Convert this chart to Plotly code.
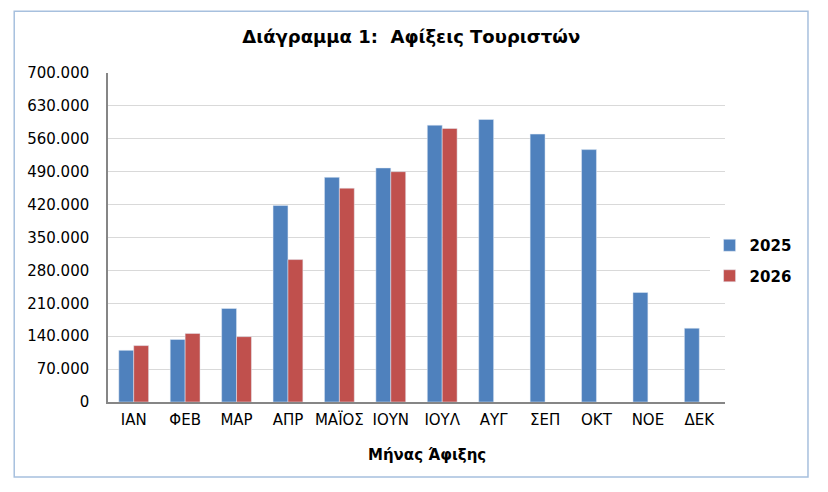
import plotly.graph_objects as go

# μήνες και αφίξεις ανά έτος
months = ["ΙΑΝ", "ΦΕΒ", "ΜΑΡ", "ΑΠΡ", "ΜΑΪΟΣ", "ΙΟΥΝ", "ΙΟΥΛ", "ΑΥΓ", "ΣΕΠ", "ΟΚΤ", "ΝΟΕ", "ΔΕΚ"]
arrivals_2025 = [110000, 133000, 199000, 418000, 478000, 498000, 589000, 601000, 570000, 537000, 233000, 157000]
arrivals_2026 = [120000, 146000, 139000, 303000, 455000, 490000, 582000, None, None, None, None, None]
y_ticks = list(range(0, 700001, 70000))

font = "DejaVu Sans, Verdana, sans-serif"

fig = go.Figure()
fig.add_trace(go.Bar(x=months, y=arrivals_2025, name="2025", marker_color="#4F81BD",
                     legendgroup="a"))
fig.add_trace(go.Bar(x=months, y=arrivals_2026, name="2026", marker_color="#C0504D",
                     legendgroup="b"))

fig.update_layout(
    width=828, height=492,
    margin=dict(l=100, r=111, t=65, b=98),
    paper_bgcolor="white", plot_bgcolor="white",
    separators=",.",
    font=dict(family=font, size=15, color="black"),
    title=dict(text="<b>Διάγραμμα 1:  Αφίξεις Τουριστών</b>", x=0.487, xanchor="center",
               y=1 - 29 / 492, yanchor="middle", font=dict(size=18)),
    bargap=0.42, bargroupgap=0,
    legend=dict(x=0.975, y=0.43, xanchor="left", yanchor="middle",
                font=dict(size=15, family=font, weight="bold"), itemwidth=30,
                tracegroupgap=8),
    showlegend=True,
)
fig.update_xaxes(
    showline=True, linecolor="#868686", linewidth=1.5,
    tickfont=dict(size=15), ticklabelstandoff=3,
)
fig.update_yaxes(
    range=[0, 700000], tickvals=y_ticks, tickformat=",",
    showline=True, linecolor="#868686", linewidth=1.5,
    gridcolor="#D9D9D9", gridwidth=1.2, zeroline=False,
    tickfont=dict(size=15), ticklabelstandoff=14,
)
# τίτλος άξονα x
fig.add_annotation(text="<b>Μήνας Άφιξης</b>", xref="paper", yref="paper",
                   x=0.517, y=-0.161, xanchor="center", yanchor="middle",
                   showarrow=False, font=dict(size=15))
# περίγραμμα διαγράμματος
fig.add_shape(type="rect", xref="paper", yref="paper",
              x0=-0.152, x1=1.1345, y0=-0.228, y1=1.188,
              line=dict(color="#A7C0DE", width=1.5))

fig.write_html("out.html")
